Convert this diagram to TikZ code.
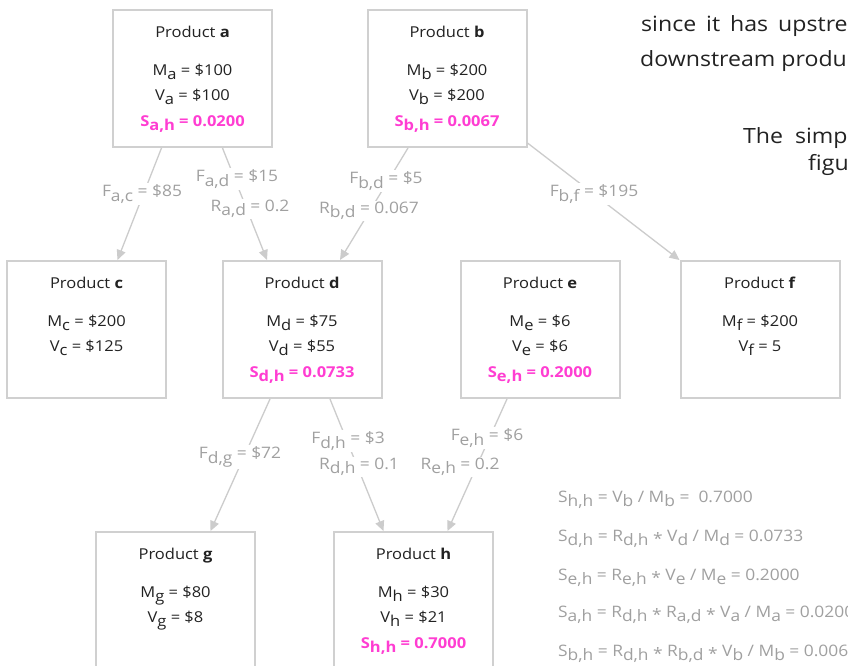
\documentclass[tikz,border=0pt]{standalone}
\usepackage{fontspec}
\setmainfont{Open Sans}[FakeStretch=1.1]
\usetikzlibrary{arrows.meta}
\definecolor{boxline}{HTML}{D0D0D0}
\definecolor{edgecol}{HTML}{CCCCCC}
\definecolor{lblcol}{HTML}{A0A0A0}
\definecolor{pinkS}{HTML}{FF3DD2}
\definecolor{txtcol}{HTML}{222222}
\newcommand\sbs[1]{\raisebox{-0.5ex}{#1}}
\newcommand\mulsym{\raisebox{-0.4ex}{*}}
\newcommand\pcontent[1]{\parbox[c][137pt][t]{155pt}{\centering\rule{0pt}{27.5pt}#1}}
\tikzset{
  pbox/.style={draw=boxline, line width=2pt, inner sep=0pt, minimum width=159pt, minimum height=137pt, text=txtcol, font=\fontsize{15}{25}\selectfont},
  edge/.style={draw=edgecol, line width=1.3pt, -{Triangle[length=10pt,width=9pt]}},
  lbl/.style={text=lblcol, font=\fontsize{15.8}{17}\selectfont, fill=white, inner sep=1.5pt},
  fml/.style={text=lblcol, font=\fontsize{15.8}{17}\selectfont, anchor=base west, inner sep=0pt},
  para/.style={text=txtcol, font=\fontsize{21}{25}\selectfont, anchor=base west, inner sep=0pt}
}
\begin{document}
\begin{tikzpicture}[x=1pt, y=-1pt]
\useasboundingbox (0,0) rectangle (848,666);
\clip (0,0) rectangle (848,666);
\fill[white] (0,0) rectangle (848,666);

% boxes
\node[pbox] (a) at (192.5,78.5) {\pcontent{Product \textbf{a}\\[13pt]M\sbs{a} = \$100\\V\sbs{a} = \$100\\[1pt]\textcolor{pinkS}{\textbf{S\sbs{a,h} = 0.0200}}}};
\node[pbox] (b) at (447,78.5) {\pcontent{Product \textbf{b}\\[13pt]M\sbs{b} = \$200\\V\sbs{b} = \$200\\[1pt]\textcolor{pinkS}{\textbf{S\sbs{b,h} = 0.0067}}}};
\node[pbox] (c) at (86.5,329.5) {\pcontent{Product \textbf{c}\\[13pt]M\sbs{c} = \$200\\V\sbs{c} = \$125}};
\node[pbox] (d) at (302,329.5) {\pcontent{Product \textbf{d}\\[13pt]M\sbs{d} = \$75\\V\sbs{d} = \$55\\[1pt]\textcolor{pinkS}{\textbf{S\sbs{d,h} = 0.0733}}}};
\node[pbox] (e) at (540,329.5) {\pcontent{Product \textbf{e}\\[13pt]M\sbs{e} = \$6\\V\sbs{e} = \$6\\[1pt]\textcolor{pinkS}{\textbf{S\sbs{e,h} = 0.2000}}}};
\node[pbox] (f) at (760,329.5) {\pcontent{Product \textbf{f}\\[13pt]M\sbs{f} = \$200\\V\sbs{f} = 5}};
\node[pbox] (g) at (175.5,600.5) {\pcontent{Product \textbf{g}\\[13pt]M\sbs{g} = \$80\\V\sbs{g} = \$8}};
\node[pbox] (h) at (413.5,600.5) {\pcontent{Product \textbf{h}\\[13pt]M\sbs{h} = \$30\\V\sbs{h} = \$21\\[1pt]\textcolor{pinkS}{\textbf{S\sbs{h,h} = 0.7000}}}};

% connectors
\draw[edge] ([xshift=-31pt]a.south) -- ([xshift=31pt]c.north);
\draw[edge] ([xshift=30pt]a.south) -- ([xshift=-35pt]d.north);
\draw[edge] ([xshift=-39pt]b.south) -- ([xshift=38pt]d.north);
\draw[edge] ([yshift=5pt]b.south east) -- (f.north west);
\draw[edge] ([xshift=-32pt]d.south) -- ([xshift=35pt]g.north);
\draw[edge] ([xshift=28pt]d.south) -- ([xshift=-30pt]h.north);
\draw[edge] ([xshift=-33pt]e.south) -- ([xshift=34pt]h.north);

% connector labels
\node[lbl] (lac) at (142,194) {F\sbs{a,c} = \$85};
\node[lbl] (lad1) at (237,179) {F\sbs{a,d} = \$15};
\node[lbl] (lad2) at (250,209) {R\sbs{a,d} = 0.2};
\node[lbl] (lbd1) at (386,181) {F\sbs{b,d} = \$5};
\node[lbl] (lbd2) at (369,211) {R\sbs{b,d} = 0.067};
\node[lbl] (lbf) at (594,194) {F\sbs{b,f} = \$195};
\node[lbl] (ldg) at (240,457) {F\sbs{d,g} = \$72};
\node[lbl] (ldh1) at (348,441) {F\sbs{d,h} = \$3};
\node[lbl] (ldh2) at (359,467) {R\sbs{d,h} = 0.1};
\node[lbl] (leh1) at (487,438) {F\sbs{e,h} = \$6};
\node[lbl] (leh2) at (460,467) {R\sbs{e,h} = 0.2};

% formulas
\node[fml] (f1) at (558,502) {S\sbs{h,h} = V\sbs{b} / M\sbs{b} = \ 0.7000};
\node[fml] (f2) at (558,541) {S\sbs{d,h} = R\sbs{d,h} \mulsym{} V\sbs{d} / M\sbs{d} = 0.0733};
\node[fml] (f3) at (558,580) {S\sbs{e,h} = R\sbs{e,h} \mulsym{} V\sbs{e} / M\sbs{e} = 0.2000};
\node[fml] (f4) at (558,617) {S\sbs{a,h} = R\sbs{d,h} \mulsym{} R\sbs{a,d} \mulsym{} V\sbs{a} / M\sbs{a} = 0.0200};
\node[fml] (f5) at (558,656) {S\sbs{b,h} = R\sbs{d,h} \mulsym{} R\sbs{b,d} \mulsym{} V\sbs{b} / M\sbs{b} = 0.0067};

% paragraph fragments
\node[para] (p1) at (641,32) {\spaceskip=10pt since it has upstre};
\node[para] (p2) at (640,67) {downstream produ};
\node[para] (p3) at (743,143) {\spaceskip=12pt The simp};
\node[para] (p4) at (808,170) {figu};
\end{tikzpicture}
\end{document}
